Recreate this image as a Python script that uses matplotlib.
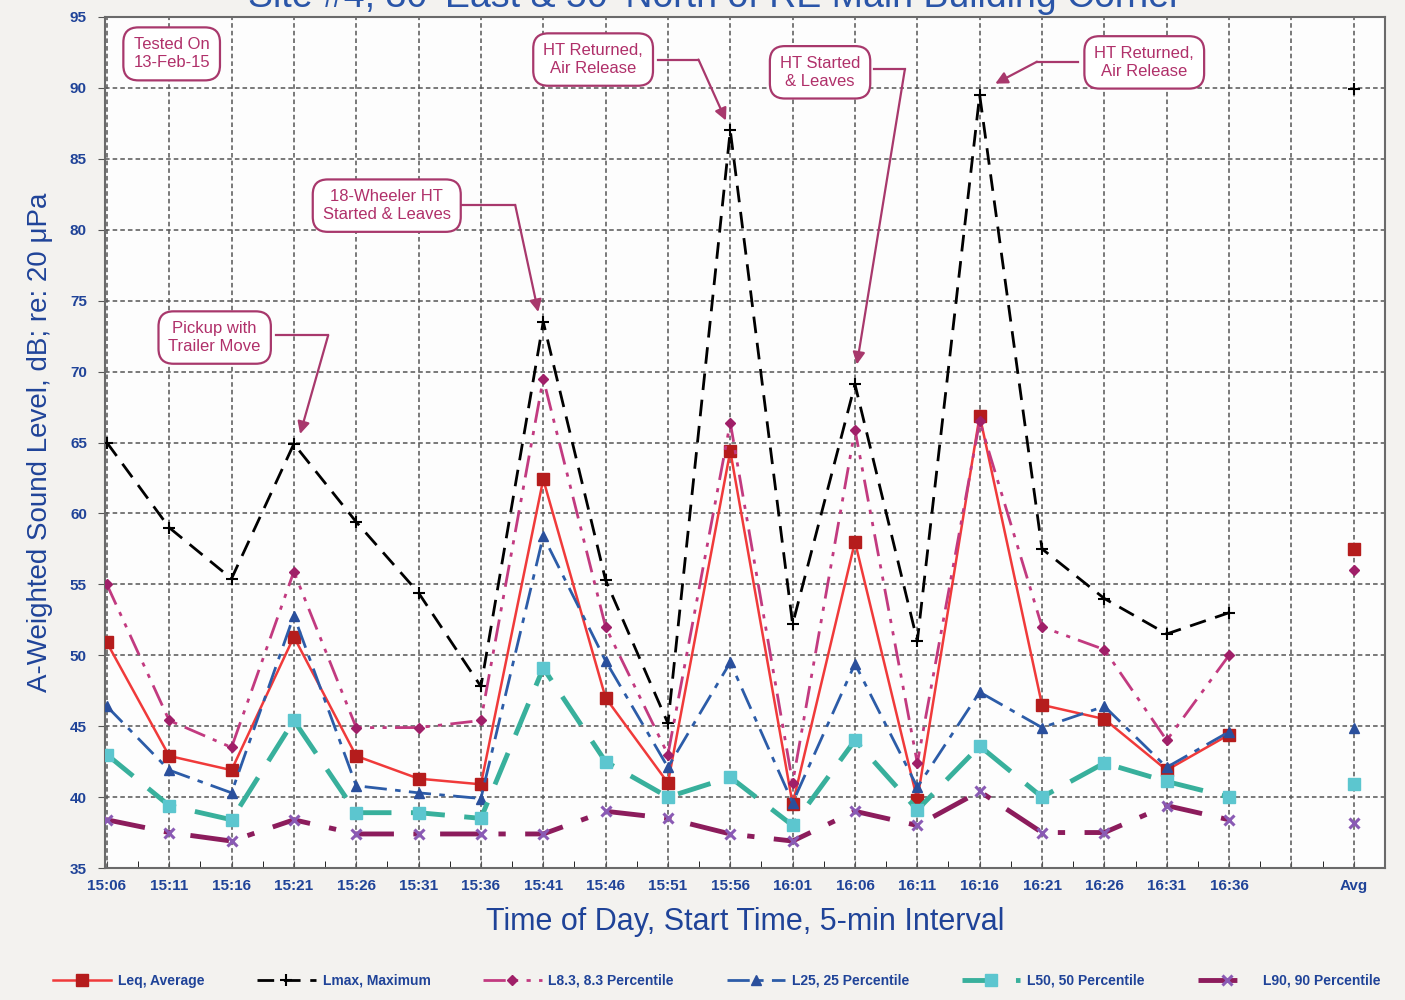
import numpy as np
import matplotlib.pyplot as plt

plt.rcParams['font.family'] = ['Liberation Sans', 'DejaVu Sans']

times = ['15:06', '15:11', '15:16', '15:21', '15:26', '15:31', '15:36', '15:41',
         '15:46', '15:51', '15:56', '16:01', '16:06', '16:11', '16:16', '16:21',
         '16:26', '16:31', '16:36']
avg_label = 'Avg'

leq = [50.9, 42.9, 41.9, 51.3, 42.9, 41.3, 40.9, 62.4, 47.0, 41.0,
       64.4, 39.5, 58.0, 39.8, 66.9, 46.5, 45.5, 41.9, 44.4]
lmax = [65.0, 59.0, 55.4, 64.9, 59.4, 54.4, 47.8, 73.5, 55.3, 45.2,
        87.0, 52.2, 69.1, 51.0, 89.5, 57.5, 54.0, 51.5, 53.0]
l8 = [55.0, 45.4, 43.5, 55.9, 44.9, 44.9, 45.4, 69.5, 52.0, 43.0,
      66.4, 41.0, 65.9, 42.4, 66.5, 52.0, 50.4, 44.0, 50.0]
l25 = [46.4, 41.9, 40.3, 52.8, 40.8, 40.3, 39.9, 58.4, 49.6, 42.1,
       49.5, 39.6, 49.4, 40.7, 47.4, 44.9, 46.4, 42.1, 44.6]
l50 = [43.0, 39.4, 38.4, 45.4, 38.9, 38.9, 38.5, 49.1, 42.5, 40.0,
       41.4, 38.0, 44.0, 39.1, 43.6, 40.0, 42.4, 41.1, 40.0]
l90 = [38.4, 37.5, 36.9, 38.4, 37.4, 37.4, 37.4, 37.4, 39.0, 38.5,
       37.4, 36.9, 39.0, 38.0, 40.4, 37.5, 37.5, 39.4, 38.4]

# averages shown in the last column
avg_leq, avg_lmax, avg_l8, avg_l25, avg_l50, avg_l90 = 57.5, 89.9, 56.0, 44.9, 40.9, 38.2

blue = '#1f4398'
note_col = '#b0306a'

fig = plt.figure(figsize=(14.05, 10), dpi=100, facecolor='#f3f2ef')
ax = fig.add_axes([0.0747, 0.132, 0.911, 0.851], facecolor='#fdfdfd')

x = np.arange(len(times))
x_avg = len(times) + 1

series = [
    (leq, avg_leq, 'Leq, Average', dict(color='#f03a3a', lw=1.8, ls='-', marker='s', ms=8,
                                         mfc='#b51c1c', mec='#b51c1c')),
    (lmax, avg_lmax, 'Lmax, Maximum', dict(color='black', lw=2, dashes=(6, 3.5), marker='+',
                                            ms=9, mec='black', mew=1.5)),
    (l8, avg_l8, 'L8.3, 8.3 Percentile', dict(color='#c23a80', lw=2, dashes=(8, 3, 1.5, 3, 1.5, 3),
                                               marker='D', ms=5, mfc='#a01f68', mec='#a01f68')),
    (l25, avg_l25, 'L25, 25 Percentile', dict(color='#2c5ca8', lw=2, dashes=(8, 3, 2, 3),
                                               marker='^', ms=7, mfc='#2a4f9c', mec='#2a4f9c')),
    (l50, avg_l50, 'L50, 50 Percentile', dict(color='#38b09c', lw=3.5, dashes=(7, 4),
                                               marker='s', ms=8, mfc='#5cc6cf', mec='#5cc6cf')),
    (l90, avg_l90, 'L90, 90 Percentile', dict(color='#8c1c5c', lw=3.5, dashes=(8, 4, 1.5, 4),
                                               marker='x', ms=7, mec='#8a5ab4', mew=2.2)),
]

handles = []
for vals, av, name, st in series:
    h, = ax.plot(x, vals, label=name, zorder=3, **st)
    handles.append(h)
    mst = {k: v for k, v in st.items() if k in ('marker', 'ms', 'mfc', 'mec', 'mew')}
    ax.plot([x_avg], [av], ls='none', zorder=3, clip_on=False,
            color=st['color'], **mst)

ax.set_xlim(-0.03, 20.05)
ax.set_ylim(35, 95)
ax.set_xticks(np.arange(21))
ax.set_xticklabels(times + ['', avg_label])
ax.set_xticks(np.arange(21) + 0.5, minor=True)
ax.set_yticks(np.arange(35, 96, 5))
ax.grid(True, which='major', color='#555555', ls=(0, (3, 2)), lw=1.1, zorder=1)
ax.tick_params(axis='both', colors='#555555', labelcolor=blue, labelsize=11)
ax.tick_params(axis='x', which='both', direction='in', length=5, pad=8)
ax.tick_params(axis='y', length=5, pad=8)
for lab in ax.get_xticklabels() + ax.get_yticklabels():
    lab.set_fontweight('bold')
for s in ax.spines.values():
    s.set_color('#6a6a6a')
    s.set_linewidth(1.5)

ax.set_xlabel('Time of Day, Start Time, 5-min Interval', fontsize=22, color=blue, labelpad=10)
ax.set_ylabel('A-Weighted Sound Level, dB; re: 20 \u03bcPa', fontsize=20, color=blue, labelpad=12)

# title sits partly above the top edge, as in the source image
fig.text(0.509, 0.993, "Site #4, 30' East & 50' North of RE Main Building Corner",
         ha='center', va='baseline', fontsize=27, color='#2a55a8')

# callouts: text position, box edge, elbow, arrow tip (data units)
box = dict(boxstyle='round,pad=0.6,rounding_size=0.9', fc='white', ec='#a8386c', lw=1.6)
ax.text(1.04, 92.4, 'Tested On\n13-Feb-15', ha='center', va='center', fontsize=12,
        color=note_col, bbox=box, zorder=5, linespacing=1.25)
notes = [
    ('Pickup with\nTrailer Move', (1.73, 72.4), (2.72, 72.55), (3.55, 72.55), (3.1, 65.6)),
    ('18-Wheeler HT\nStarted & Leaves', (4.49, 81.7), (5.7, 81.75), (6.55, 81.75), (6.92, 74.2)),
    ('HT Returned,\nAir Release', (7.8, 92.0), (8.84, 92.0), (9.49, 92.0), (9.93, 87.7)),
    ('HT Started\n& Leaves', (11.44, 91.1), (12.3, 91.3), (12.8, 91.3), (12.03, 70.5)),
    ('HT Returned,\nAir Release', (16.64, 91.8), (15.57, 91.85), (14.92, 91.85), (14.25, 90.3)),
]
for txt, pos, edge, elbow, tip in notes:
    ax.text(pos[0], pos[1], txt, ha='center', va='center', fontsize=12,
            color=note_col, bbox=box, zorder=5, linespacing=1.2)
    ax.plot([edge[0], elbow[0]], [edge[1], elbow[1]], color='#a8386c', lw=1.6, zorder=4)
    ax.annotate('', xy=tip, xytext=elbow,
                arrowprops=dict(arrowstyle='-|>', color='#a8386c', lw=1.6,
                                mutation_scale=18, shrinkA=0, shrinkB=0), zorder=4)

leg = fig.legend(handles=handles, loc='lower center', bbox_to_anchor=(0.51, 0.0), ncol=6,
                 frameon=False, fontsize=10, handlelength=4.2, columnspacing=3.8,
                 handletextpad=0.5)
for t in leg.get_texts():
    t.set_color(blue)
    t.set_fontweight('bold')

fig.savefig('out.png', dpi=100, facecolor=fig.get_facecolor())
